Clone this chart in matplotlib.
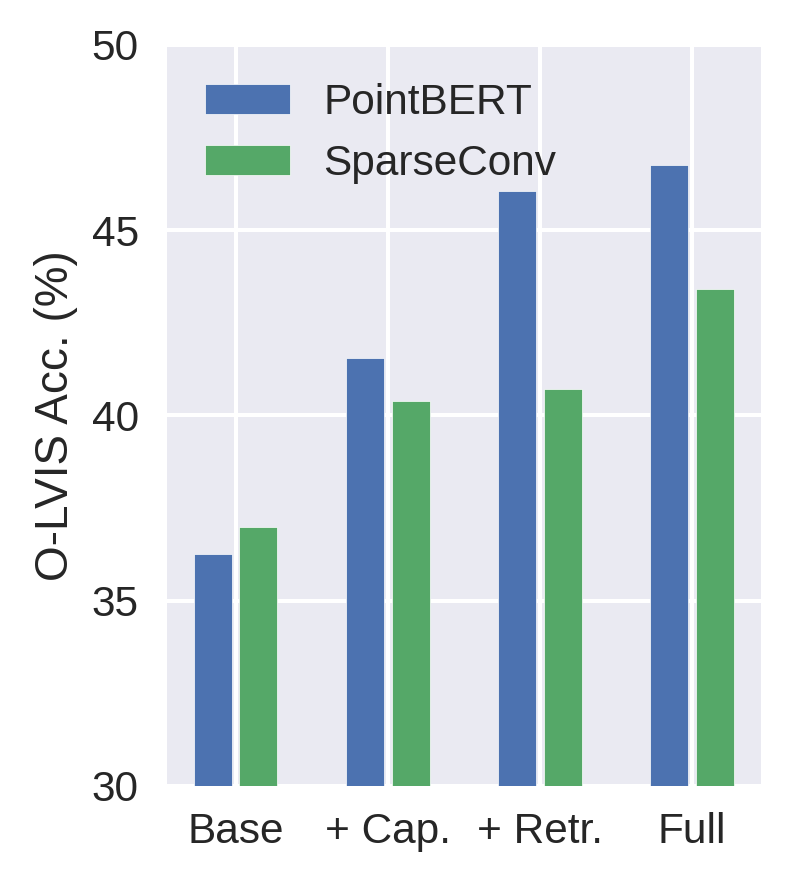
import matplotlib
matplotlib.use("Agg")
import matplotlib.pyplot as plt
import numpy as np
import seaborn as sns

methods = ["Base", "+ Cap.", "+ Retr.", "Full"]
pointbert = [36.25, 41.55, 46.05, 46.75]
sparseconv = [37.0, 40.4, 40.7, 43.4]

sns.set_style("darkgrid")
plt.rcParams["font.family"] = ["Liberation Sans", "DejaVu Sans"]

FS = 30.5

fig = plt.figure(figsize=(7.91, 8.85), dpi=100)
ax = fig.add_axes([0.2107, 0.1119, 0.7513, 0.8376])
ax.grid(True, color="white", linewidth=2.9)
ax.set_axisbelow(True)

x = np.arange(len(methods))
ax.bar(x - 0.15, pointbert, 0.25, color="#4C72B0", label="PointBERT",
       edgecolor="white", linewidth=0.5)
ax.bar(x + 0.15, sparseconv, 0.25, color="#55A868", label="SparseConv",
       edgecolor="white", linewidth=0.5)

ax.set_ylim(30, 50)
ax.set_yticks([30, 35, 40, 45, 50])
ax.set_xticks(x)
ax.set_xticklabels(methods)
ax.tick_params(axis="both", labelsize=FS, length=0, colors="#262626")
ax.tick_params(axis="y", pad=20)
ax.tick_params(axis="x", pad=19)
ax.set_ylabel("O-LVIS Acc. (%)", fontsize=33, labelpad=10, color="#262626")
for s in ax.spines.values():
    s.set_visible(False)

ax.legend(loc="upper left", frameon=False, fontsize=FS)

fig.savefig("out.png", dpi=100)
